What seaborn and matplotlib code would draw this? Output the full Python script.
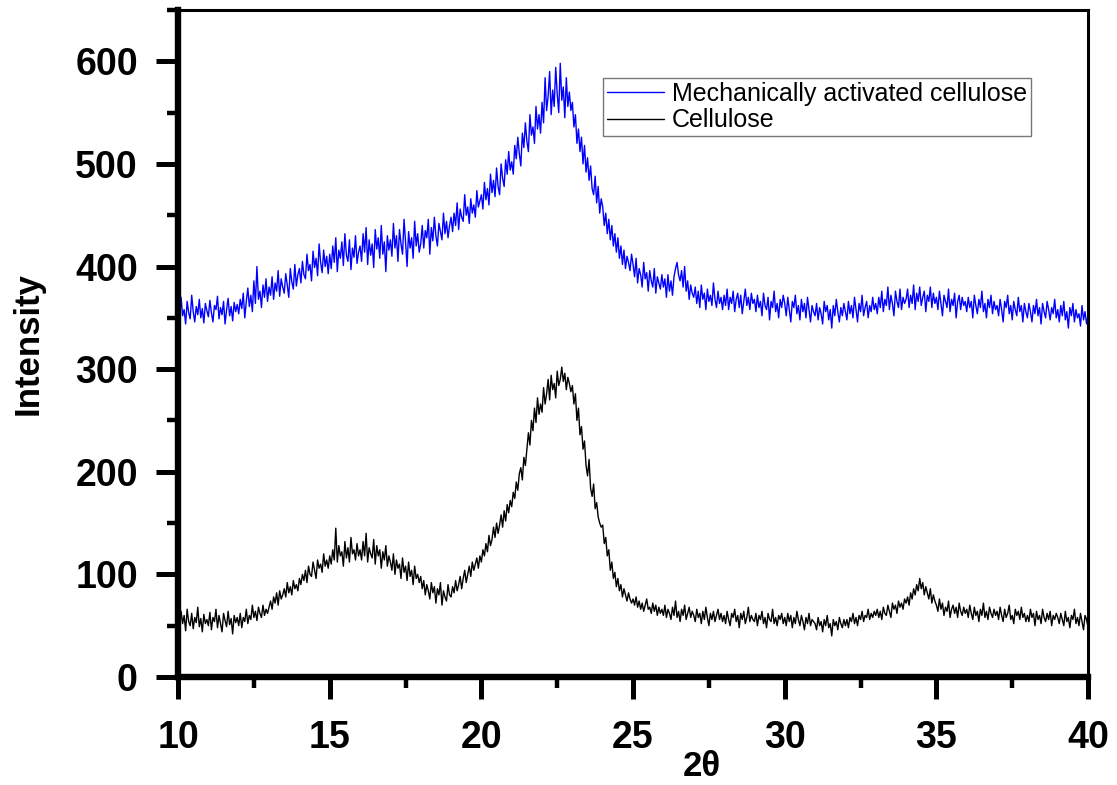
import numpy as np
import pandas as pd
import matplotlib
matplotlib.use("Agg")
import matplotlib.pyplot as plt
from matplotlib.ticker import MultipleLocator
import seaborn as sns

# intensities, 0.05 degree steps from 2theta = 10 to 40
# (two rows of ten values per degree)
activated = [
    362, 348, 370, 352, 358, 344, 366, 355, 349, 372,
    356, 346, 361, 353, 368, 350, 359, 345, 364, 357,
    351, 367, 355, 346, 362, 358, 371, 349, 360, 353,
    366, 344, 358, 369, 352, 361, 347, 365, 356, 363,
    354, 368, 359, 374, 350, 366, 379, 361, 372, 356,
    386, 364, 400, 368, 376, 360, 382, 370, 388, 366,
    380, 372, 390, 368, 384, 376, 396, 371, 388, 380,
    374, 393, 382, 370, 398, 385, 378, 402, 381, 392,
    398, 384, 405, 392, 388, 412, 396, 402, 386, 415,
    399, 408, 391, 422, 404, 394, 416, 400, 410, 393,
    412, 398, 420, 404, 428, 395, 416, 408, 424, 401,
    432, 411, 405, 426, 397, 418, 409, 430, 403, 414,
    420, 405, 432, 414, 438, 402, 426, 411, 422, 399,
    436, 417, 428, 408, 440, 412, 424, 395, 430, 416,
    426, 410, 442, 418, 430, 405, 436, 422, 412, 446,
    424, 400, 434, 418, 428, 408, 444, 420, 432, 414,
    422, 440, 418, 435, 428, 446, 412, 438, 425, 448,
    430, 420, 442, 434, 426, 452, 432, 444, 428, 440,
    448, 434, 452, 440, 462, 436, 456, 448, 444, 470,
    450, 458, 442, 466, 452, 460, 448, 474, 458, 464,
    470, 456, 482, 465, 476, 460, 490, 472, 484, 468,
    496, 478, 470, 500, 486, 478, 504, 490, 512, 494,
    502, 490, 518, 505, 526, 510, 498, 530, 516, 540,
    522, 512, 548, 528, 536, 520, 556, 534, 548, 530,
    560, 540, 584, 552, 566, 590, 548, 572, 556, 594,
    568, 550, 598, 562, 575, 545, 584, 556, 570, 552,
    560, 536, 548, 520, 534, 512, 526, 500, 518, 492,
    506, 484, 498, 476, 470, 488, 462, 478, 452, 466,
    458, 440, 452, 432, 446, 426, 440, 420, 432, 414,
    428, 408, 420, 402, 416, 398, 410, 404, 396, 412,
    402, 390, 408, 384, 398, 392, 380, 404, 388, 394,
    376, 396, 386, 380, 398, 374, 390, 384, 378, 392,
    380, 388, 370, 392, 376, 386, 372, 390, 398, 404,
    392, 386, 396, 380, 400, 376, 386, 368, 382, 374,
    370, 380, 364, 376, 360, 382, 368, 374, 358, 378,
    366, 372, 362, 384, 368, 360, 376, 364, 370, 358,
    372, 362, 378, 358, 370, 364, 376, 356, 368, 374,
    360, 372, 354, 366, 378, 362, 370, 358, 374, 364,
    368, 356, 372, 360, 366, 352, 374, 362, 358, 370,
    348, 366, 360, 376, 356, 364, 350, 368, 360, 372,
    364, 352, 370, 358, 346, 366, 360, 372, 354, 362,
    348, 368, 356, 364, 350, 370, 358, 346, 362, 356,
    352, 364, 348, 360, 354, 344, 366, 356, 362, 348,
    358, 340, 362, 352, 368, 356, 346, 360, 352, 364,
    356, 348, 366, 354, 362, 350, 370, 358, 346, 364,
    356, 372, 352, 360, 366, 350, 362, 356, 370, 358,
    364, 354, 370, 360, 376, 356, 368, 362, 380, 358,
    372, 364, 352, 376, 366, 360, 378, 358, 370, 364,
    368, 378, 360, 372, 364, 382, 358, 374, 366, 380,
    362, 370, 376, 356, 372, 366, 380, 360, 374, 364,
    370, 358, 376, 364, 352, 372, 366, 360, 378, 356,
    368, 362, 374, 350, 366, 372, 358, 370, 362, 366,
    356, 370, 360, 366, 350, 372, 362, 354, 368, 360,
    376, 356, 364, 350, 368, 360, 372, 354, 366, 358,
    362, 352, 368, 358, 346, 366, 360, 372, 354, 362,
    348, 366, 358, 352, 370, 356, 362, 346, 364, 356,
    350, 364, 356, 346, 362, 354, 368, 352, 360, 344,
    364, 356, 350, 366, 358, 348, 360, 354, 368, 350,
    358, 346, 362, 352, 366, 348, 356, 340, 360, 352,
    364, 346, 358, 350, 354, 342, 362, 348, 356, 344,
    352,
]

cellulose = [
    58, 48, 64, 52, 60, 45, 66, 54, 50, 62,
    47, 58, 53, 68, 49, 57, 44, 61, 52, 56,
    50, 63, 46, 58, 54, 66, 48, 60, 52, 44,
    62, 55, 49, 64, 51, 57, 42, 60, 53, 58,
    50, 62, 48, 58, 54, 66, 52, 60, 56, 70,
    58, 64, 55, 68, 62, 58, 70, 60, 66, 62,
    68, 74, 66, 78, 72, 82, 70, 84, 76, 80,
    86, 78, 92, 82, 88, 80, 94, 86, 90, 84,
    96, 90, 100, 94, 104, 92, 108, 100, 98, 112,
    104, 96, 114, 106, 110, 102, 120, 108, 114, 106,
    118, 110, 124, 114, 145, 112, 128, 118, 122, 108,
    132, 116, 126, 112, 136, 120, 124, 114, 130, 118,
    124, 114, 132, 118, 140, 112, 126, 120, 116, 134,
    110, 128, 118, 124, 106, 122, 114, 128, 108, 118,
    112, 104, 120, 100, 114, 106, 110, 96, 116, 102,
    108, 94, 112, 98, 104, 90, 108, 96, 100, 92,
    98, 86, 94, 80, 90, 84, 76, 92, 82, 88,
    72, 86, 80, 92, 70, 84, 78, 74, 90, 80,
    78, 88, 82, 94, 84, 90, 98, 86, 96, 104,
    92, 100, 108, 98, 112, 104, 110, 116, 106, 118,
    112, 124, 118, 130, 122, 138, 128, 134, 146, 136,
    150, 140, 148, 158, 146, 162, 152, 168, 160, 172,
    166, 180, 174, 190, 182, 198, 204, 192, 214, 206,
    222, 238, 226, 250, 240, 262, 248, 272, 256, 266,
    258, 282, 266, 276, 290, 270, 294, 280, 286, 272,
    298, 284, 290, 302, 288, 296, 280, 292, 286, 278,
    284, 266, 276, 250, 262, 236, 244, 222, 230, 206,
    196, 212, 184, 176, 188, 164, 170, 156, 150, 146,
    148, 130, 136, 118, 124, 104, 112, 96, 102, 88,
    96, 84, 90, 78, 86, 80, 74, 82, 76, 72,
    76, 70, 78, 68, 74, 66, 72, 64, 70, 76,
    66, 68, 62, 72, 64, 70, 60, 68, 62, 66,
    60, 70, 58, 66, 62, 56, 68, 60, 74, 58,
    64, 54, 66, 60, 70, 56, 62, 68, 58, 64,
    60, 54, 66, 58, 62, 52, 64, 56, 68, 58,
    50, 62, 56, 64, 54, 60, 66, 56, 62, 54,
    60, 52, 64, 56, 50, 62, 58, 66, 54, 60,
    48, 62, 56, 64, 52, 58, 68, 54, 60, 56,
    54, 62, 50, 60, 56, 64, 52, 58, 48, 62,
    56, 54, 66, 52, 58, 50, 60, 56, 62, 52,
    58, 50, 62, 54, 60, 48, 58, 52, 64, 56,
    50, 60, 54, 46, 58, 52, 62, 50, 56, 54,
    52, 46, 58, 50, 54, 44, 56, 50, 60, 48,
    52, 40, 56, 50, 54, 46, 58, 52, 48, 56,
    50, 56, 48, 58, 54, 62, 52, 58, 50, 60,
    56, 64, 54, 60, 58, 66, 56, 62, 58, 64,
    60, 66, 58, 64, 56, 68, 62, 60, 70, 64,
    58, 72, 66, 70, 62, 74, 68, 72, 66, 76,
    72, 78, 70, 82, 76, 86, 80, 90, 84, 96,
    86, 92, 80, 88, 82, 76, 86, 72, 80, 74,
    70, 64, 76, 66, 72, 60, 68, 64, 74, 58,
    66, 70, 62, 68, 58, 72, 64, 60, 68, 62,
    66, 58, 70, 62, 56, 68, 60, 64, 54, 66,
    60, 72, 58, 64, 56, 68, 62, 58, 66, 60,
    64, 56, 68, 60, 54, 66, 58, 62, 70, 56,
    60, 52, 66, 60, 64, 56, 68, 58, 62, 54,
    60, 54, 66, 58, 62, 50, 64, 56, 60, 52,
    66, 58, 54, 62, 56, 64, 50, 60, 56, 62,
    58, 52, 62, 56, 50, 64, 54, 58, 48, 60,
    56, 66, 52, 58, 50, 62, 54, 46, 60, 56,
    48,
]

samples = ["Mechanically activated cellulose", "Cellulose"]
colors = ["#0000ff", "#000000"]
step = 0.05

df = pd.concat([
    pd.DataFrame({"2theta": np.round(10 + step * np.arange(len(activated)), 2),
                  "Intensity": activated, "Sample": samples[0]}),
    pd.DataFrame({"2theta": np.round(10 + step * np.arange(len(cellulose)), 2),
                  "Intensity": cellulose, "Sample": samples[1]}),
])

sns.set_style("ticks")
plt.rcParams["font.family"] = ["Liberation Sans", "DejaVu Sans"]
plt.rcParams["font.weight"] = "bold"
for key in ["text.color", "axes.labelcolor", "xtick.color", "ytick.color", "axes.edgecolor"]:
    plt.rcParams[key] = "black"

fig = plt.figure(figsize=(11.17, 7.85), dpi=100)
ax = fig.add_axes([0.1594, 0.1376, 0.8147, 0.8497])

sns.lineplot(data=df, x="2theta", y="Intensity", hue="Sample", hue_order=samples,
             palette=colors, estimator=None, sort=False, linewidth=1.0, ax=ax)

ax.set_xlim(10, 40)
ax.set_ylim(0, 650)
ax.xaxis.set_major_locator(MultipleLocator(5))
ax.xaxis.set_minor_locator(MultipleLocator(2.5))
ax.yaxis.set_major_locator(MultipleLocator(100))
ax.yaxis.set_minor_locator(MultipleLocator(50))

ax.tick_params(which="both", direction="out", top=False, right=False, color="black")
ax.tick_params(which="major", length=16, width=3.6, labelsize=27)
ax.tick_params(which="minor", length=8, width=3.2)
ax.tick_params(axis="y", which="major", pad=13)
ax.tick_params(axis="x", which="major", pad=15)

for side in ["left", "bottom"]:
    ax.spines[side].set_linewidth(4.6)
for side in ["top", "right"]:
    ax.spines[side].set_linewidth(2.2)

# x label sits right of centre, just under the tick labels
ax.set_xlabel("2\u03b8", fontsize=25, fontweight="bold", va="baseline")
ax.xaxis.set_label_coords(0.576, -0.1484)
ax.set_ylabel("Intensity", fontsize=25, fontweight="bold")
ax.yaxis.set_label_coords(-0.147, 0.5)

leg = ax.legend(loc="upper left", bbox_to_anchor=(0.467, 0.898), borderaxespad=0,
                frameon=True, fancybox=False, prop={"weight": "normal", "size": 18},
                handlelength=2.3, handletextpad=0.3, labelspacing=0.1, borderpad=0.15)
leg.get_frame().set_edgecolor("#555555")
leg.get_frame().set_linewidth(1.0)
for line in leg.get_lines():
    line.set_linewidth(1.0)

fig.savefig("out.png", dpi=100)
